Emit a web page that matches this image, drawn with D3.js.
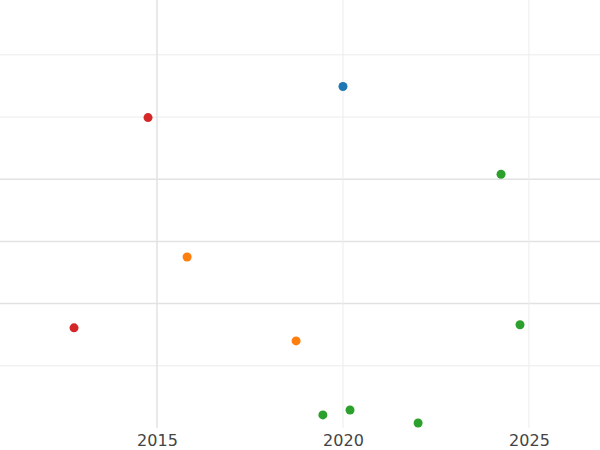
<!DOCTYPE html>
<html><head><meta charset="utf-8">
<script src="https://cdn.jsdelivr.net/npm/d3@7"></script>
<style>body{margin:0;background:#fff}</style>
</head><body><div id="chart"></div>
<script>
let w = 600, h = 450;
let years = [2020.0, 2014.76, 2024.25, 2015.81, 2012.77, 2024.76, 2018.74, 2019.46, 2020.19, 2022.02];
let values = [5.49, 4.99, 4.08, 2.75, 1.61, 1.66, 1.40, 0.21, 0.29, 0.08];
let groups = ["blue","red","green","orange","red","green","orange","green","green","green"];
let xTicks = [2015, 2020, 2025];
let yTicks = [1, 2, 3, 4, 5, 6];
let colors = {blue:"#1f77b4", red:"#d62728", green:"#2ca02c", orange:"#ff7f0e"};

let svg = d3.select("#chart").append("svg").attr("width", w).attr("height", h);
let x = d3.scaleLinear().domain([2010.78, 2026.91]).range([0, w]);
let y = d3.scaleLinear().domain([0, 6.865]).range([428, 1]);

svg.append("g").selectAll("line").data(yTicks).join("line")
  .attr("x1", 0).attr("x2", w)
  .attr("y1", d => y(d)).attr("y2", d => y(d))
  .attr("stroke", d => (d >= 2 && d <= 4) ? "#e2e2e2" : "#ececec")
  .attr("stroke-width", d => (d >= 2 && d <= 4) ? 1.5 : 1);

svg.append("g").selectAll("line").data(xTicks).join("line")
  .attr("x1", d => x(d)).attr("x2", d => x(d))
  .attr("y1", 0).attr("y2", 428)
  .attr("stroke", d => d == 2015 ? "#e2e2e2" : "#ececec")
  .attr("stroke-width", d => d == 2015 ? 1.5 : 1);

let xAxis = svg.append("g").attr("transform", "translate(0,428)")
  .call(d3.axisBottom(x).tickValues(xTicks).tickFormat(d3.format("d")).tickSize(0).tickPadding(7));
xAxis.select(".domain").remove();
xAxis.selectAll("text").attr("font-family", "DejaVu Sans").attr("font-size", 16).attr("fill", "#444");

svg.append("g").selectAll("circle").data(years).join("circle")
  .attr("cx", d => x(d))
  .attr("cy", (d, i) => y(values[i]))
  .attr("r", 4.5)
  .attr("fill", (d, i) => colors[groups[i]]);
</script></body></html>
